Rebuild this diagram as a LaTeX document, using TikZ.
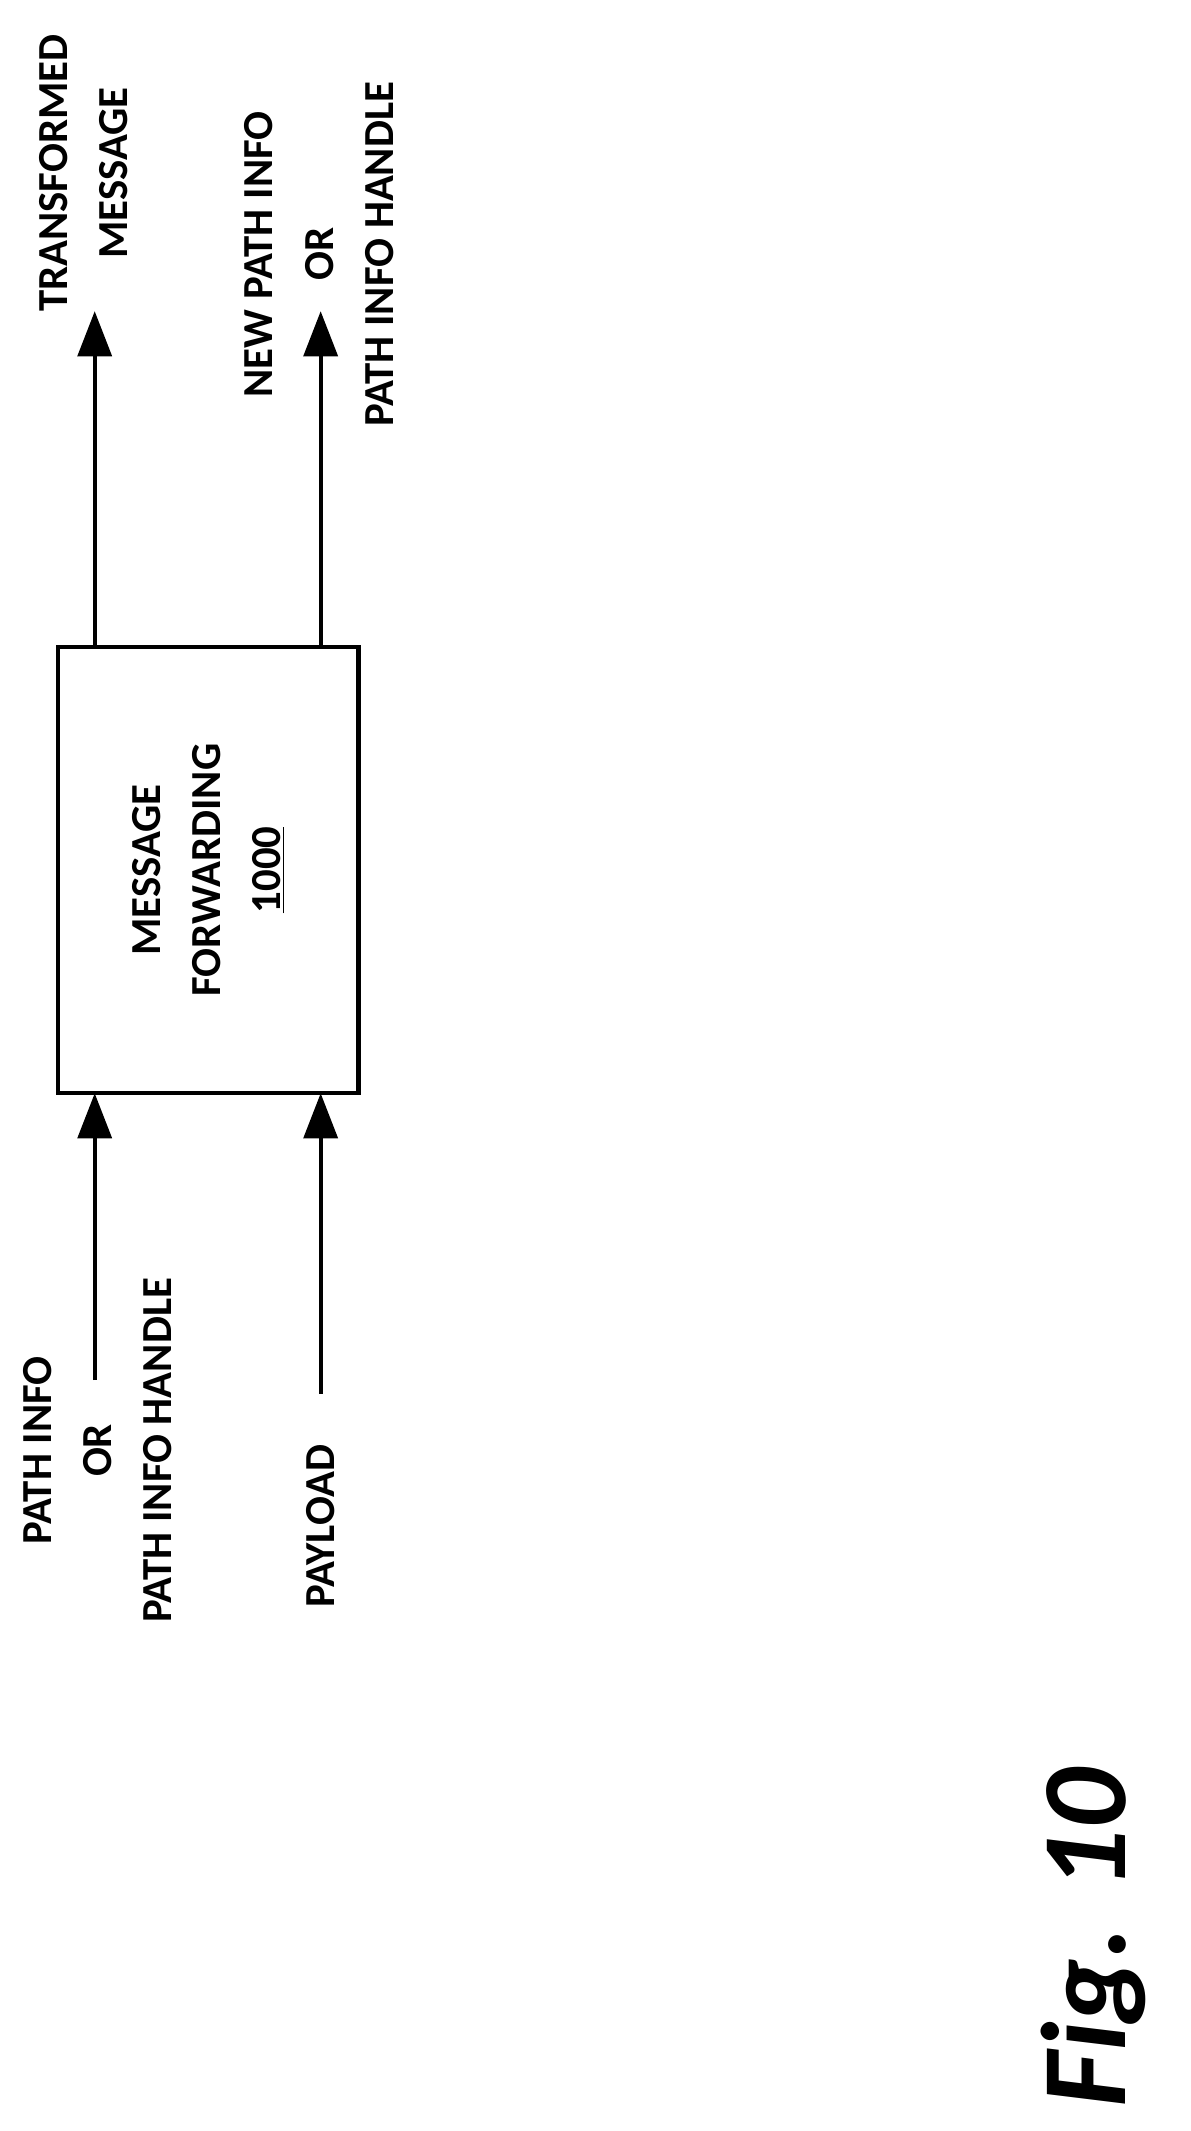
\documentclass[tikz,border=0pt]{standalone}
\usepackage{fontspec}
\setmainfont{Carlito}
\usetikzlibrary{arrows.meta}

\begin{document}
\begin{tikzpicture}[x=0.03cm,y=-0.03cm,
    lbl/.style={rotate=90,align=center,font=\fontsize{27}{38}\selectfont\bfseries},
    sig/.style={line width=2.6pt,-{Triangle[width=0.75cm,length=1.0cm]}}]
    \useasboundingbox (0,0) rectangle (880,1575);
    % block
    \node[draw,line width=2.6pt,minimum width=222*0.03cm,minimum height=330*0.03cm,inner sep=0pt] (fwd) at (154,643) {};
    \node[lbl] (fwdtxt) at (fwd.center) {MESSAGE\\FORWARDING\\\underline{1000}};
    % outputs
    \coordinate (out1) at (70,230);
    \coordinate (out2) at (237,230);
    \draw[sig] (70,478) -- (out1);
    \draw[sig] (237,478) -- (out2);
    \node[lbl] (tmsg) at (62,128) {TRANSFORMED\\MESSAGE};
    \node[lbl] (npath) at (236,188) {NEW PATH INFO\\OR\\PATH INFO HANDLE};
    % inputs
    \coordinate (in1) at (70,1020);
    \coordinate (in2) at (237,1030);
    \draw[sig] (in1) -- (70,808);
    \draw[sig] (in2) -- (237,808);
    \node[lbl] (path) at (72,1072) {PATH INFO\\OR\\PATH INFO HANDLE};
    \node[lbl] (pay) at (237,1128) {PAYLOAD};
    % figure label
    \node[rotate=90,font=\fontsize{76}{84}\selectfont\bfseries\itshape] (fig) at (808,1432) {Fig. 10};
\end{tikzpicture}
\end{document}
